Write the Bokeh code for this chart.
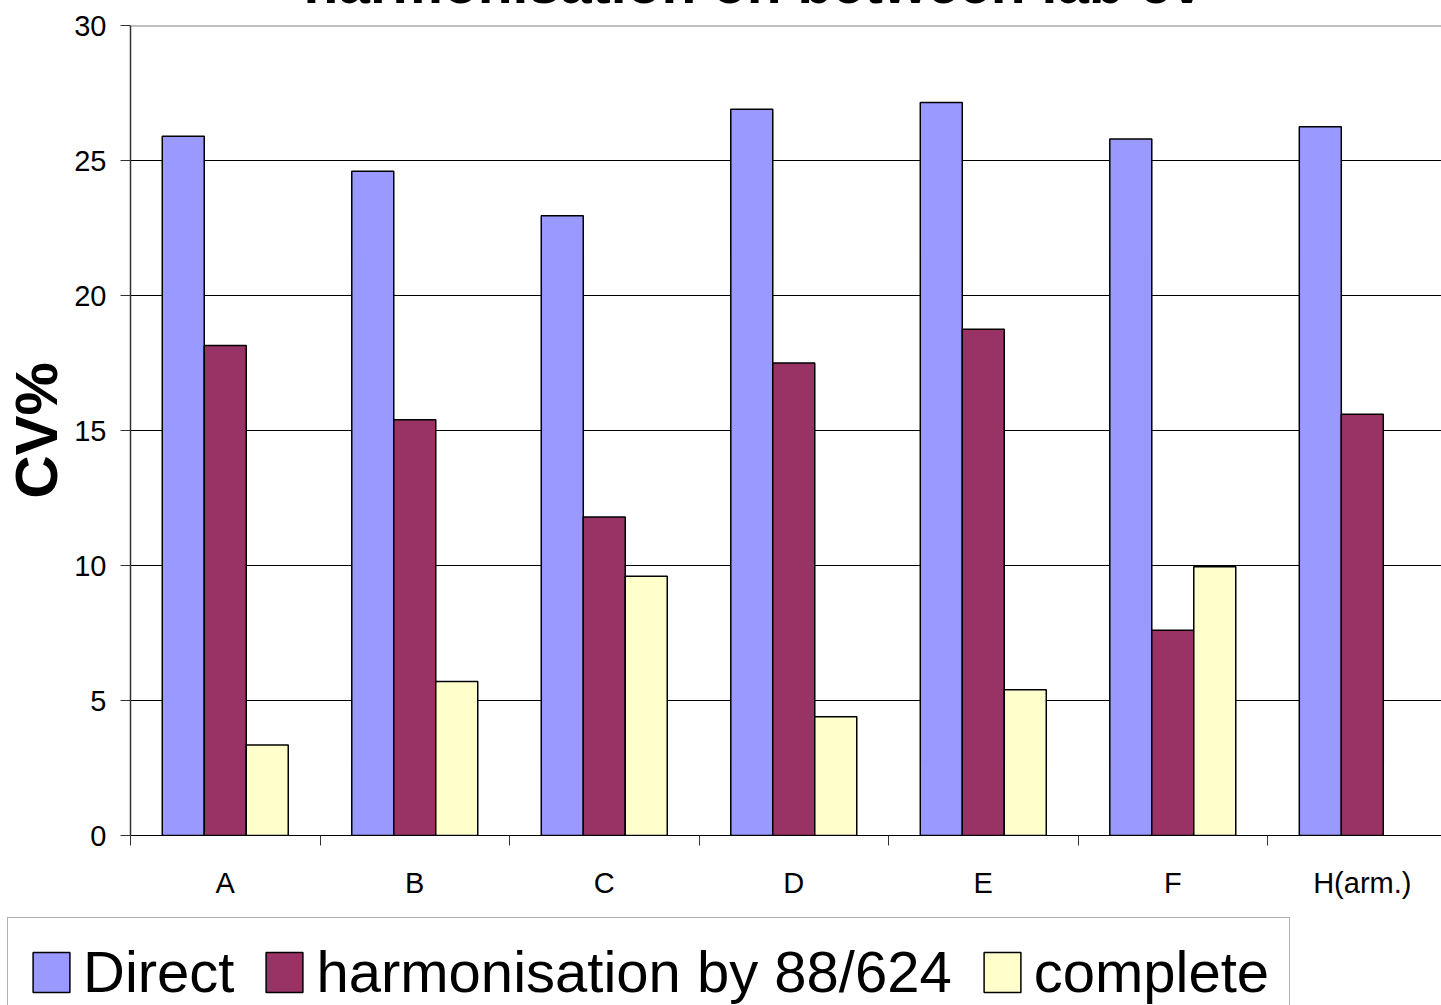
from bokeh.plotting import figure
from bokeh.layouts import column
from bokeh.models import (Range1d, FixedTicker, Legend, LegendItem, Span,
                          ColumnDataSource)
from bokeh.embed import file_html
from bokeh.resources import INLINE

# Between-laboratory CV% per method
categories = ["A", "B", "C", "D", "E", "F", "H(arm.)"]
direct = [25.9, 24.6, 22.95, 26.9, 27.15, 25.8, 26.25]
harmonisation = [18.15, 15.4, 11.8, 17.5, 18.75, 7.6, 15.6]
complete = [3.35, 5.7, 9.6, 4.4, 5.4, 9.95, float("nan")]  # no value for H(arm.)

series_names = ["Direct", "harmonisation by 88/624", "complete"]
series_colors = ["#9999FF", "#993366", "#FFFFCC"]

FONT = "Liberation Sans"
BAR_W = 0.2216   # fraction of one category slot
TOP_CUT = 75     # the page is scrolled past the upper part of the title
shift = {"position": "relative", "top": f"-{TOP_CUT}px"}

centers = [i + 0.5 for i in range(len(categories))]
boundaries = list(range(len(categories)))

p = figure(frame_width=1311, frame_height=810, output_backend="svg", toolbar_location=None,
           x_range=Range1d(0, 6.918), y_range=Range1d(0, 30),
           min_border_left=130, min_border_right=0, min_border_top=100,
           min_border_bottom=70, title="harmonisation on between lab cv")
p.styles = shift
p.outline_line_color = None
p.background_fill_color = "white"
p.border_fill_color = "white"

p.title.text_font = FONT
p.title.text_font_size = "57px"
p.title.text_font_style = "bold"
p.title.text_color = "black"
p.title.align = "left"
p.title.offset = 173
p.title.standoff = 22

# horizontal gridlines
p.xgrid.visible = False
p.ygrid.ticker = FixedTicker(ticks=[5, 10, 15, 20, 25])
p.ygrid.grid_line_color = "black"
p.ygrid.grid_line_width = 1
p.add_layout(Span(location=30, dimension="width", line_color="#808080", line_width=2))

for k, (vals, color) in enumerate(zip([direct, harmonisation, complete], series_colors)):
    off = (k - 1) * BAR_W
    src = ColumnDataSource(dict(x=[c + off for c in centers], top=vals))
    p.vbar(x="x", top="top", bottom=0, width=BAR_W, source=src,
           fill_color=color, line_color="black", line_width=1.5)

# y axis
yax = p.yaxis[0]
yax.ticker = FixedTicker(ticks=[0, 5, 10, 15, 20, 25, 30])
yax.major_tick_out = 10
yax.major_tick_in = 0
yax.minor_tick_out = 0
yax.minor_tick_in = 0
yax.major_label_standoff = 14
yax.major_label_text_font = FONT
yax.major_label_text_font_size = "29px"
yax.major_label_text_color = "black"
yax.axis_line_color = "#333333"
yax.axis_line_width = 1.5
yax.major_tick_line_color = "#333333"
yax.axis_label = "CV%"
yax.axis_label_text_font = FONT
yax.axis_label_text_font_size = "60px"
yax.axis_label_text_font_style = "bold"
yax.axis_label_text_color = "black"
yax.axis_label_standoff = 1

# x axis: tick marks between categories, labels at the centres
xax = p.xaxis[0]
xax.ticker = FixedTicker(ticks=centers, minor_ticks=boundaries)
xax.major_label_overrides = {c: lab for c, lab in zip(centers, categories)}
xax.major_tick_out = 0
xax.major_tick_in = 0
xax.minor_tick_out = 10
xax.minor_tick_in = 0
xax.minor_tick_line_color = "#333333"
xax.major_label_standoff = 21
xax.major_label_text_font = FONT
xax.major_label_text_font_size = "29px"
xax.major_label_text_color = "black"
xax.axis_line_color = "black"
xax.axis_line_width = 1

# legend strip under the chart
leg = figure(width=1441, height=100, output_backend="svg", toolbar_location=None,
             x_range=Range1d(0, 1441), y_range=Range1d(0, 100),
             x_axis_location=None, y_axis_location=None,
             min_border_left=0, min_border_right=0, min_border_top=0, min_border_bottom=0)
leg.styles = shift
leg.outline_line_color = None
leg.background_fill_color = "white"
leg.border_fill_color = "white"
leg.grid.visible = False

for fig in (p, leg):
    if "frame_align" in fig.properties():
        fig.frame_align = False

# legend proxies: one undefined bar per series, so only the swatch is drawn
swatches = [leg.vbar(x=[float("nan")], top=[float("nan")], width=1, fill_color=c,
                     line_color="black", line_width=1.5)
            for c in series_colors]

legend = Legend(items=[LegendItem(label=n, renderers=[r]) for n, r in zip(series_names, swatches)],
                orientation="horizontal", location=(7, -21),
                label_text_font=FONT, label_text_font_size="58px",
                label_text_color="black", glyph_width=46, glyph_height=50,
                label_height=50, label_standoff=9, spacing=27, padding=20,
                margin=0, border_line_color="#666666", border_line_width=1.5,
                background_fill_color="white", background_fill_alpha=1)
leg.add_layout(legend)

page = column(p, leg, spacing=0)
open("out.html", "w").write(file_html(page, INLINE))
